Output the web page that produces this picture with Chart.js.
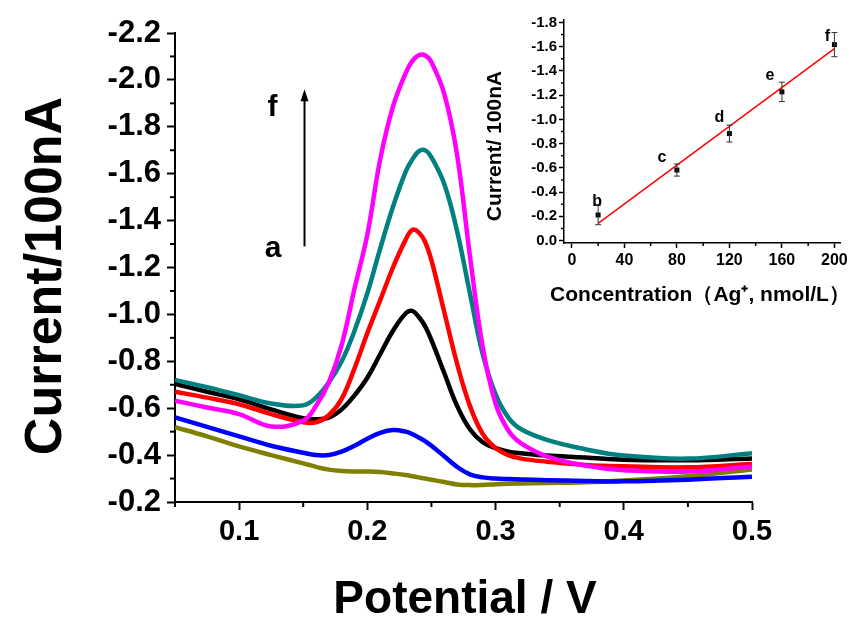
<!DOCTYPE html>
<html>
<head>
<meta charset="utf-8">
<script src="https://cdn.jsdelivr.net/npm/chart.js@4"></script>
<style>
  body { margin: 0; background: #fff; }
  #wrap { position: relative; width: 851px; height: 623px; }
  #main { position: absolute; left: 0; top: 0; }
  #inset { position: absolute; left: 470px; top: 0; }
</style>
</head>
<body>
<div id="wrap">
  <canvas id="main" width="851" height="623"></canvas>
  <canvas id="inset" width="381" height="310"></canvas>
</div>
<script>
// main DPV curves (current in 100 nA, cathodic = negative)
const potential = [0.05, 0.075, 0.1, 0.125, 0.15, 0.16, 0.17, 0.18, 0.19, 0.2, 0.21, 0.22, 0.23, 0.235, 0.24, 0.245, 0.25, 0.26, 0.27, 0.28, 0.29, 0.3, 0.31, 0.32, 0.34, 0.37, 0.4, 0.45, 0.5];

const curveA = [-0.519, -0.48, -0.437, -0.40, -0.365, -0.35, -0.338, -0.332, -0.33, -0.33, -0.328, -0.322, -0.315, -0.31, -0.305, -0.30, -0.295, -0.285, -0.275, -0.272, -0.273, -0.276, -0.278, -0.279, -0.281, -0.284, -0.292, -0.31, -0.339];
const curveB = [-0.561, -0.52, -0.48, -0.44, -0.41, -0.40, -0.40, -0.415, -0.44, -0.47, -0.495, -0.507, -0.50, -0.49, -0.475, -0.46, -0.44, -0.395, -0.35, -0.318, -0.305, -0.30, -0.298, -0.296, -0.293, -0.29, -0.288, -0.295, -0.308];
const curveC = [-0.703, -0.67, -0.638, -0.595, -0.557, -0.553, -0.56, -0.595, -0.655, -0.73, -0.83, -0.93, -1.005, -1.015, -0.99, -0.95, -0.89, -0.75, -0.61, -0.51, -0.455, -0.43, -0.415, -0.408, -0.398, -0.39, -0.38, -0.378, -0.386];
const curveD = [-0.67, -0.645, -0.617, -0.575, -0.54, -0.54, -0.57, -0.64, -0.77, -0.92, -1.06, -1.20, -1.32, -1.36, -1.35, -1.31, -1.23, -1.01, -0.79, -0.61, -0.49, -0.43, -0.40, -0.385, -0.372, -0.358, -0.352, -0.348, -0.362];
const curveE = [-0.72, -0.69, -0.655, -0.62, -0.612, -0.645, -0.71, -0.80, -0.93, -1.09, -1.28, -1.459, -1.61, -1.66, -1.695, -1.70, -1.67, -1.556, -1.355, -1.09, -0.83, -0.66, -0.56, -0.51, -0.465, -0.425, -0.398, -0.385, -0.408];
const curveF = [-0.632, -0.603, -0.575, -0.522, -0.547, -0.61, -0.71, -0.87, -1.11, -1.34, -1.66, -1.886, -2.03, -2.08, -2.105, -2.105, -2.075, -1.94, -1.68, -1.25, -0.86, -0.62, -0.505, -0.45, -0.395, -0.355, -0.335, -0.33, -0.351];

const mainXMajor = [0.1, 0.2, 0.3, 0.4, 0.5];
const mainXMinor = [0.05, 0.15, 0.25, 0.35, 0.45];
const mainYMajor = [-2.2, -2.0, -1.8, -1.6, -1.4, -1.2, -1.0, -0.8, -0.6, -0.4, -0.2];
const mainYMinor = [-2.1, -1.9, -1.7, -1.5, -1.3, -1.1, -0.9, -0.7, -0.5, -0.3];

// inset: calibration plot
const concentration = [20, 80, 120, 160, 200];
const peakCurrent = [-0.211, -0.582, -0.883, -1.227, -1.617];
const currentError = [0.08, 0.05, 0.07, 0.08, 0.10];
const pointLetters = ['b', 'c', 'd', 'e', 'f'];
const fitX = [20, 200];
const fitY = [-0.142, -1.583];

const insetXMajor = [0, 40, 80, 120, 160, 200];
const insetXMinor = [20, 60, 100, 140, 180];
const insetYMajor = [0, -0.2, -0.4, -0.6, -0.8, -1.0, -1.2, -1.4, -1.6, -1.8];
const insetYMinor = [-0.1, -0.3, -0.5, -0.7, -0.9, -1.1, -1.3, -1.5, -1.7];

const FONT = '"Liberation Sans", Arial, sans-serif';

function xy(xs, ys) {
    return xs.map((x, i) => ({ x: x, y: ys[i] }));
}

// short minor ticks (Chart.js tickLength is one value per axis)
const minorTicks = {
    id: 'minorTicks',
    afterDraw(chart, args, opts) {
        const ctx = chart.ctx;
        const { x, y } = chart.scales;
        ctx.save();
        ctx.strokeStyle = '#000';
        ctx.lineWidth = opts.width;
        opts.x.forEach(v => {
            const px = x.getPixelForValue(v);
            ctx.beginPath();
            ctx.moveTo(px, y.bottom);
            ctx.lineTo(px, y.bottom + opts.len);
            ctx.stroke();
        });
        opts.y.forEach(v => {
            const py = y.getPixelForValue(v);
            ctx.beginPath();
            ctx.moveTo(x.left, py);
            ctx.lineTo(x.left - opts.len, py);
            ctx.stroke();
        });
        ctx.restore();
    }
};

// axis titles drawn by hand: the scale title squeezes text to the axis width
const axisTitles = {
    id: 'axisTitles',
    afterDraw(chart, args, opts) {
        const ctx = chart.ctx;
        ctx.save();
        ctx.fillStyle = '#000';
        ctx.textAlign = 'center';
        ctx.textBaseline = 'middle';
        opts.items.forEach(t => {
            ctx.save();
            ctx.translate(t.x, t.y);
            if (t.vertical) ctx.rotate(-Math.PI / 2);
            ctx.font = t.font;
            ctx.fillText(t.text, 0, 0);
            ctx.restore();
        });
        ctx.restore();
    }
};

// "a -> f" arrow in the main plot
const arrowNote = {
    id: 'arrowNote',
    afterDraw(chart) {
        const ctx = chart.ctx;
        const { x, y } = chart.scales;
        const ax = x.getPixelForValue(0.151);
        const y0 = y.getPixelForValue(-1.29);
        const y1 = y.getPixelForValue(-1.96);
        ctx.save();
        ctx.strokeStyle = '#000';
        ctx.fillStyle = '#000';
        ctx.lineWidth = 2;
        ctx.beginPath();
        ctx.moveTo(ax, y0);
        ctx.lineTo(ax, y1 + 8);
        ctx.stroke();
        ctx.beginPath();
        ctx.moveTo(ax, y1);
        ctx.lineTo(ax - 4, y1 + 12);
        ctx.lineTo(ax + 4, y1 + 12);
        ctx.closePath();
        ctx.fill();
        ctx.font = 'bold 30px ' + FONT;
        ctx.textAlign = 'center';
        ctx.textBaseline = 'middle';
        ctx.fillText('f', x.getPixelForValue(0.126), y.getPixelForValue(-1.88));
        ctx.fillText('a', x.getPixelForValue(0.1265), y.getPixelForValue(-1.28));
        ctx.restore();
    }
};

// error bars + letters for the inset
const errorBars = {
    id: 'errorBars',
    afterDatasetsDraw(chart) {
        const ctx = chart.ctx;
        const { x, y } = chart.scales;
        const offsets = [[-1, -13], [-15, -12], [-10, -16], [-12, -16], [-7, -8]];
        ctx.save();
        ctx.strokeStyle = '#333';
        ctx.lineWidth = 1;
        concentration.forEach((c, i) => {
            const px = x.getPixelForValue(c);
            const top = y.getPixelForValue(peakCurrent[i] - currentError[i]);
            const bot = y.getPixelForValue(peakCurrent[i] + currentError[i]);
            ctx.beginPath();
            ctx.moveTo(px, top); ctx.lineTo(px, bot);
            ctx.moveTo(px - 3, top); ctx.lineTo(px + 3, top);
            ctx.moveTo(px - 3, bot); ctx.lineTo(px + 3, bot);
            ctx.stroke();
        });
        ctx.fillStyle = '#000';
        ctx.font = 'bold 16px ' + FONT;
        ctx.textAlign = 'center';
        ctx.textBaseline = 'middle';
        concentration.forEach((c, i) => {
            ctx.fillText(pointLetters[i],
                x.getPixelForValue(c) + offsets[i][0],
                y.getPixelForValue(peakCurrent[i]) + offsets[i][1]);
        });
        ctx.restore();
    }
};

function curve(data, color) {
    return {
        data: xy(potential, data),
        borderColor: color,
        borderWidth: 4.5,
        pointRadius: 0,
        tension: 0.4,
        fill: false
    };
}

new Chart(document.getElementById('main'), {
    type: 'line',
    data: {
        datasets: [
            curve(curveF, '#ff00ff'),
            curve(curveE, '#008080'),
            curve(curveD, '#ff0000'),
            curve(curveC, '#000000'),
            curve(curveB, '#0000ff'),
            curve(curveA, '#808000')
        ]
    },
    options: {
        responsive: false,
        animation: false,
        devicePixelRatio: 1,
        layout: { padding: { left: 0, right: 99, top: 33, bottom: 0 } },
        plugins: {
            legend: { display: false },
            tooltip: { enabled: false },
            minorTicks: { x: mainXMinor, y: mainYMinor, len: 5, width: 2 },
            axisTitles: { items: [
                { text: 'Current/100nA', font: 'bold 52px ' + FONT, x: 47, y: 276, vertical: true },
                { text: 'Potential / V', font: 'bold 46px ' + FONT, x: 465, y: 600 }
            ] }
        },
        scales: {
            x: {
                type: 'linear',
                min: 0.05,
                max: 0.5,
                afterBuildTicks: s => { s.ticks = mainXMajor.map(v => ({ value: v })); },
                afterFit: s => { s.height = 121; },
                grid: { drawOnChartArea: false, tickLength: 8, tickWidth: 2, tickColor: '#000' },
                border: { color: '#000', width: 2 },
                ticks: {
                    color: '#000',
                    padding: 5,
                    maxRotation: 0,
                    font: { family: FONT, size: 29, weight: 'bold' },
                    callback: v => v.toFixed(1)
                }
            },
            y: {
                type: 'linear',
                min: -2.2,
                max: -0.2,
                reverse: true,
                afterBuildTicks: s => { s.ticks = mainYMajor.map(v => ({ value: v })); },
                afterFit: s => { s.width = 175; },
                grid: { drawOnChartArea: false, tickLength: 8, tickWidth: 2, tickColor: '#000' },
                border: { color: '#000', width: 2 },
                ticks: {
                    color: '#000',
                    padding: 6,
                    font: { family: FONT, size: 31, weight: 'bold' },
                    callback: v => v.toFixed(1)
                }
            }
        }
    },
    plugins: [minorTicks, arrowNote, axisTitles]
});

new Chart(document.getElementById('inset'), {
    type: 'line',
    data: {
        datasets: [
            {
                data: xy(concentration, peakCurrent),
                showLine: false,
                pointStyle: 'rect',
                pointRadius: 3.5,
                pointBackgroundColor: '#000',
                pointBorderColor: '#000',
                pointBorderWidth: 0
            },
            {
                data: xy(fitX, fitY),
                borderColor: '#ff0000',
                borderWidth: 1.5,
                pointRadius: 0,
                fill: false
            }
        ]
    },
    options: {
        responsive: false,
        animation: false,
        devicePixelRatio: 1,
        layout: { padding: { left: 0, right: 10, top: 20, bottom: 0 } },
        plugins: {
            legend: { display: false },
            tooltip: { enabled: false },
            minorTicks: { x: insetXMinor, y: insetYMinor, len: 3, width: 1.5 },
            axisTitles: { items: [
                { text: 'Current/ 100nA', font: 'bold 21px ' + FONT, x: 25, y: 146, vertical: true },
                { text: 'Concentration\uFF08Ag\u207A, nmol/L\uFF09', font: 'bold 21px ' + FONT, x: 230, y: 295 }
            ] }
        },
        scales: {
            x: {
                type: 'linear',
                min: -6,
                max: 205,
                afterBuildTicks: s => { s.ticks = insetXMajor.map(v => ({ value: v })); },
                afterFit: s => { s.height = 67; },
                grid: { drawOnChartArea: false, tickLength: 5, tickWidth: 1.5, tickColor: '#000' },
                border: { color: '#000', width: 1.5 },
                ticks: {
                    color: '#000',
                    padding: 3,
                    maxRotation: 0,
                    font: { family: FONT, size: 16, weight: 'bold' },
                    callback: v => String(v)
                }
            },
            y: {
                type: 'linear',
                min: -1.82,
                max: 0.02,
                reverse: true,
                afterBuildTicks: s => { s.ticks = insetYMajor.map(v => ({ value: v })); },
                afterFit: s => { s.width = 94; },
                grid: { drawOnChartArea: false, tickLength: 5, tickWidth: 1.5, tickColor: '#000' },
                border: { color: '#000', width: 1.5 },
                ticks: {
                    color: '#000',
                    padding: 2,
                    font: { family: FONT, size: 15, weight: 'bold' },
                    callback: v => v.toFixed(1)
                }
            }
        }
    },
    plugins: [minorTicks, errorBars, axisTitles]
});
</script>
</body>
</html>
